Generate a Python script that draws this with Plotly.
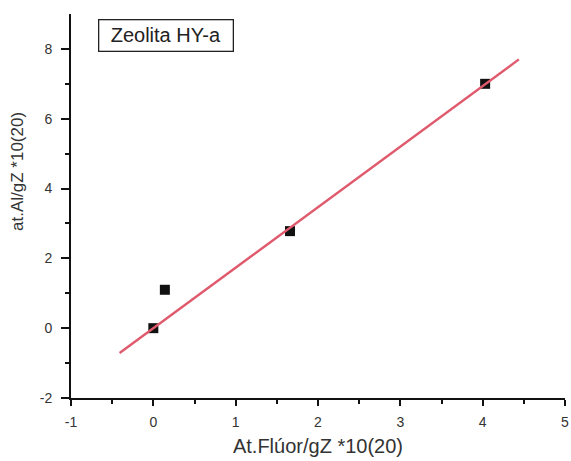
import numpy as np
import plotly.graph_objects as go

# Measured points
fluor = [0.0, 0.14, 1.66, 4.03]      # At.Flúor/gZ *10(20)
aluminio = [0.0, 1.10, 2.78, 7.00]   # at.Al/gZ *10(20)

# Axis ticks (hyphen minus as printed)
x_ticks = [-1, 0, 1, 2, 3, 4, 5]
x_ticktext = ["-1", "0", "1", "2", "3", "4", "5"]
y_ticks = [-2, 0, 2, 4, 6, 8]
y_ticktext = ["-2", "0", "2", "4", "6", "8"]

# Extent of the fitted line along x
fit_x_range = [-0.41, 4.44]

# Least-squares line through the origin
xa = np.array(fluor)
ya = np.array(aluminio)
slope = float((xa * ya).sum() / (xa * xa).sum())
fit_x = np.array(fit_x_range)
fit_y = slope * fit_x

FONT = "Liberation Sans, Arial, sans-serif"
INK = "#222222"

fig = go.Figure()
fig.add_trace(go.Scatter(
    x=fluor, y=aluminio, mode="markers",
    marker=dict(symbol="square", size=10, color="#111111"),
    showlegend=False,
))
fig.add_trace(go.Scatter(
    x=fit_x, y=fit_y, mode="lines",
    line=dict(color="#e05a6e", width=2.4),
    showlegend=False,
))

axis_common = dict(
    showgrid=False, zeroline=False, showline=True,
    linecolor="#111111", linewidth=2,
    ticks="outside", tickwidth=2, tickcolor="#111111",
    tickfont=dict(family=FONT, size=14, color="#333333"),
    ticklabeloverflow="allow", automargin=False,
)

fig.update_xaxes(
    range=[-1, 5], tickvals=x_ticks, ticktext=x_ticktext, ticklen=6,
    ticklabelstandoff=4,
    minor=dict(ticks="outside", ticklen=4, tickwidth=1.5, tickcolor="#111111",
               tickvals=[-0.5, 0.5, 1.5, 2.5, 3.5, 4.5]),
    title=dict(text="At.Flúor/gZ *10(20)", font=dict(family=FONT, size=20, color="#333333"), standoff=10),
    **axis_common,
)
fig.update_yaxes(
    range=[-2, 9], tickvals=y_ticks, ticktext=y_ticktext, ticklen=8,
    ticklabelstandoff=6,
    minor=dict(ticks="outside", ticklen=4, tickwidth=1.5, tickcolor="#111111",
               tickvals=[-1, 1, 3, 5, 7]),
    **axis_common,
)

# y-axis title, placed slightly above the middle of the axis
fig.add_annotation(
    x=-0.107, y=0.589, xref="paper", yref="paper",
    xanchor="center", yanchor="middle", textangle=-90,
    text="at.Al/gZ *10(20)", showarrow=False,
    font=dict(family=FONT, size=17, color="#333333"),
)

# sample label box
fig.add_annotation(
    x=0.055, y=0.987, xref="paper", yref="paper", xanchor="left", yanchor="top",
    text="Zeolita HY-a", showarrow=False, width=127, height=24,
    font=dict(family=FONT, size=20, color=INK),
    bordercolor=INK, borderwidth=1.3, borderpad=3, bgcolor="white",
)

fig.update_layout(
    width=571, height=461,
    margin=dict(l=71, r=6, t=14, b=63),
    plot_bgcolor="white", paper_bgcolor="white",
)

fig.write_html("out.html")
